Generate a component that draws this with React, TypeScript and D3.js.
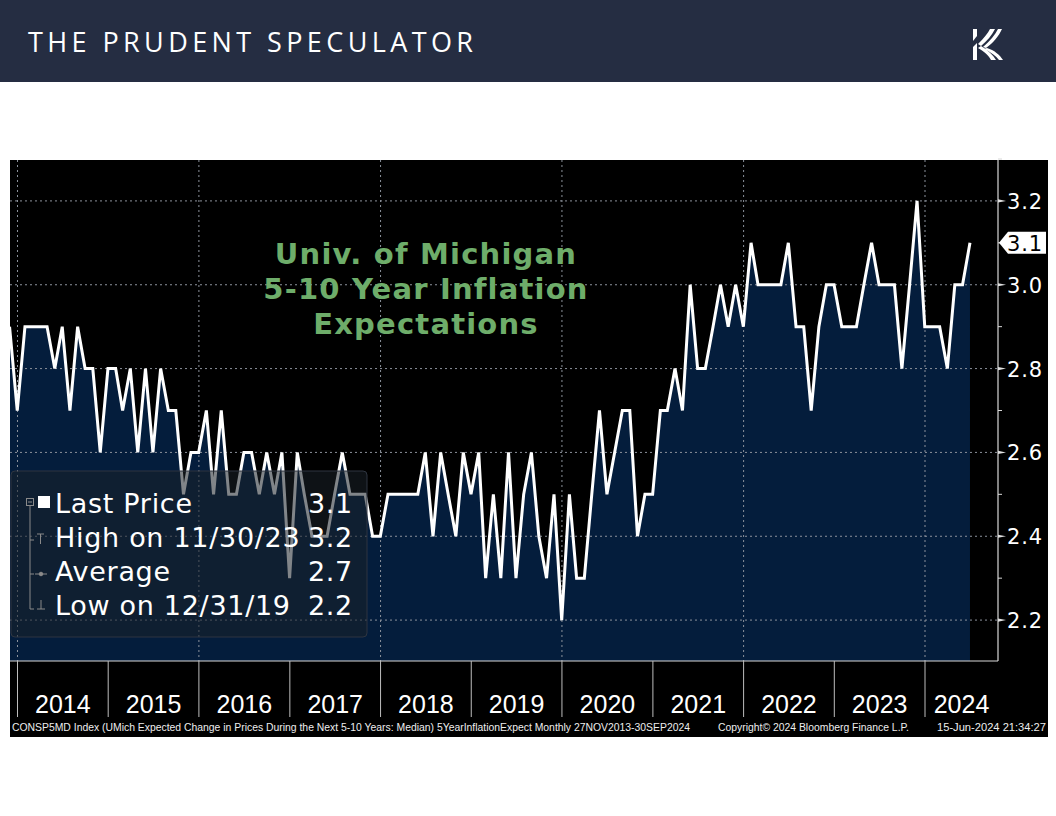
import React from 'react';
import * as d3 from 'd3';

const W = 1056;
const H = 816;

// Monthly observations, month-end, Nov 2013 .. Jun 2024
const firstYear = 2013;
const firstMonth = 10; // November (0-based)
const values = [
  2.9, 2.7, // 2013 Nov-Dec
  2.9, 2.9, 2.9, 2.9, 2.8, 2.9, 2.7, 2.9, 2.8, 2.8, 2.6, 2.8, // 2014
  2.8, 2.7, 2.8, 2.6, 2.8, 2.6, 2.8, 2.7, 2.7, 2.5, 2.6, 2.6, // 2015
  2.7, 2.5, 2.7, 2.5, 2.5, 2.6, 2.6, 2.5, 2.6, 2.5, 2.6, 2.3, // 2016
  2.6, 2.5, 2.4, 2.4, 2.4, 2.5, 2.6, 2.5, 2.5, 2.5, 2.4, 2.4, // 2017
  2.5, 2.5, 2.5, 2.5, 2.5, 2.6, 2.4, 2.6, 2.5, 2.4, 2.6, 2.5, // 2018
  2.6, 2.3, 2.5, 2.3, 2.6, 2.3, 2.5, 2.6, 2.4, 2.3, 2.5, 2.2, // 2019
  2.5, 2.3, 2.3, 2.5, 2.7, 2.5, 2.6, 2.7, 2.7, 2.4, 2.5, 2.5, // 2020
  2.7, 2.7, 2.8, 2.7, 3.0, 2.8, 2.8, 2.9, 3.0, 2.9, 3.0, 2.9, // 2021
  3.1, 3.0, 3.0, 3.0, 3.0, 3.1, 2.9, 2.9, 2.7, 2.9, 3.0, 3.0, // 2022
  2.9, 2.9, 2.9, 3.0, 3.1, 3.0, 3.0, 3.0, 2.8, 3.0, 3.2, 2.9, // 2023
  2.9, 2.9, 2.8, 3.0, 3.0, 3.1, // 2024 Jan-Jun
];

const yearLabels = ['2014', '2015', '2016', '2017', '2018', '2019', '2020', '2021', '2022', '2023', '2024'];
const majorTicks = [2.2, 2.4, 2.6, 2.8, 3.0, 3.2];
const minorTicks = [2.3, 2.5, 2.7, 2.9, 3.1, 3.3];
const gridYears = [2014, 2016, 2018, 2020, 2022, 2024];
const lastPrice = '3.1';
const legendLabels = ['Last Price', 'High on 11/30/23', 'Average', 'Low on 12/31/19'];
const legendValues = ['3.1', '3.2', '2.7', '2.2'];
const titleLines = ['Univ. of Michigan', '5-10 Year Inflation', 'Expectations'];
const footerTexts = [
  'CONSP5MD Index (UMich Expected Change in Prices During the Next 5-10 Years: Median) 5YearInflationExpect  Monthly 27NOV2013-30SEP2024',
  'Copyright\u00A9 2024 Bloomberg Finance L.P.',
  '15-Jun-2024 21:34:27',
];

export default function App() {
  const plotL = 10, plotR = 998, plotT = 160, plotB = 661;
  const panelR = 1048, panelB = 737;

  const dates = values.map((_, i) => new Date(firstYear, firstMonth + i + 1, 0));
  const data = values.map((v, i) => ({ d: dates[i], v }));

  const x = d3.scaleTime().domain([new Date(2014, 0, 1), new Date(2024, 0, 1)]).range([17.5, 925]);
  const y = d3.scaleLinear().domain([2.1, 3.3]).range([662, 159]);

  const area = d3.area<any>().x((p) => x(p.d)).y0(plotB).y1((p) => y(p.v));
  const line = d3.line<any>().x((p) => x(p.d)).y((p) => y(p.v));

  const yearStarts = yearLabels.map((yl) => x(new Date(+yl, 0, 1)));
  const yearCenters = yearLabels.map((yl, i) => {
    const a = yearStarts[i];
    const b = i < yearLabels.length - 1 ? x(new Date(+yl + 1, 0, 1)) : plotR;
    return (a + b) / 2;
  });

  const green = '#6EAD6A';
  const legendRowY = [513, 547, 581, 615];

  return (
    <svg width={W} height={H} style={{ position: 'absolute', left: 0, top: 0, background: '#fff' }}>
      <defs>
        <clipPath id="plotClip">
          <rect x={plotL} y={plotT} width={plotR - plotL} height={plotB - plotT} />
        </clipPath>
      </defs>
      {/* header */}
      <rect x={0} y={0} width={W} height={82} fill="#252D42" />
      <text x={28} y={52} fill="#fff" fontFamily="Open Sans, Noto Sans, sans-serif" fontSize={27}
        textLength={445} lengthAdjust="spacing">THE PRUDENT SPECULATOR</text>
      <g fill="#fff">
        <path d="M973,29 L977,29 L977,36 L973,41 Z" />
        <path d="M978,44 C984,38 988,33 990,29 L995,29 C992,35 987,41 981,46 Z" />
        <path d="M983,47 C990,41 995,35 998,29 L1002,29 C999,36 993,43 986,48 Z" />
        <path d="M973,47 L977,43 L977,60 L973,60 Z" />
        <path d="M978,48 C985,52 989,56 991,60 L996,60 C993,55 988,50 981,46 Z" />
        <path d="M984,49 C991,52 996,56 999,60 L1003,60 C1000,55 994,50 987,48 Z" />
      </g>

      {/* panel */}
      <rect x={plotL} y={plotT} width={panelR - plotL} height={panelB - plotT} fill="#000" />

      <g clipPath="url(#plotClip)">
        <path d={area(data) || ''} fill="#041D3C" />
        {majorTicks.map((t) => (
          <line key={'hg' + t} x1={plotL} x2={plotR} y1={y(t)} y2={y(t)} stroke="#8C929C"
            strokeWidth={1} strokeDasharray="2,3" />
        ))}
        {gridYears.map((g) => (
          <line key={'vg' + g} x1={x(new Date(g, 0, 1))} x2={x(new Date(g, 0, 1))} y1={plotT} y2={plotB}
            stroke="#8C929C" strokeWidth={1} strokeDasharray="2,3" />
        ))}
        <path d={line(data) || ''} fill="none" stroke="#fff" strokeWidth={3} strokeLinejoin="miter" />
      </g>

      {/* chart title */}
      {titleLines.map((t, i) => (
        <text key={t} x={426} y={264 + i * 35} textAnchor="middle" fill={green}
          fontFamily="DejaVu Sans, sans-serif" fontWeight="bold" fontSize={29} letterSpacing={1.2}>{t}</text>
      ))}

      {/* frame */}
      <line x1={plotR} x2={plotR} y1={plotT} y2={plotB} stroke="#d8d8d8" strokeWidth={1.2} />
      <line x1={plotL} x2={plotR} y1={plotB} y2={plotB} stroke="#d8d8d8" strokeWidth={1.2} />

      {/* right axis */}
      {minorTicks.map((t) => (
        <line key={'mt' + t} x1={plotR} x2={plotR + 4} y1={y(t)} y2={y(t)} stroke="#d8d8d8" strokeWidth={1} />
      ))}
      {majorTicks.map((t) => (
        <g key={'Mt' + t}>
          <path d={`M${plotR},${y(t) - 1.6} L${plotR + 8},${y(t)} L${plotR},${y(t) + 1.6} Z`} fill="#e0e0e0" />
          <text x={plotR + 9} y={y(t) + 8} fill="#fff" fontFamily="DejaVu Sans, sans-serif" fontSize={21}
            letterSpacing={0.8}>{t.toFixed(1)}</text>
        </g>
      ))}
      {/* last price tag */}
      <g>
        <path d={`M${plotR + 1},${y(+lastPrice)} L${plotR + 10},${y(+lastPrice) - 11} L${panelR - 2},${y(+lastPrice) - 11} L${panelR - 2},${y(+lastPrice) + 11} L${plotR + 10},${y(+lastPrice) + 11} Z`} fill="#fff" />
        <text x={plotR + 9} y={y(+lastPrice) + 8} fill="#000" fontFamily="DejaVu Sans, sans-serif" fontSize={21}
          letterSpacing={0.8}>{lastPrice}</text>
      </g>

      {/* bottom axis */}
      {yearStarts.map((xs, i) => (
        <line key={'ys' + i} x1={xs} x2={xs} y1={plotB} y2={717} stroke="#bdbdbd" strokeWidth={1} />
      ))}
      {yearLabels.map((yl, i) => (
        <text key={yl} x={yearCenters[i]} y={713} textAnchor="middle" fill="#fff"
          fontFamily="Liberation Sans Narrow, Liberation Sans, sans-serif" fontSize={25}>{yl}</text>
      ))}

      {/* legend */}
      <rect x={11} y={471} width={356} height={166} rx={4} fill="rgb(26,32,40)" fillOpacity={0.55}
        stroke="#2e3540" strokeWidth={1} />
      <g stroke="#8a8a8a" strokeWidth={1} fill="none">
        <rect x={26.5} y={498.5} width={7} height={7} />
        <line x1={28} x2={32} y1={502} y2={502} />
        <line x1={30} x2={30} y1={506} y2={609} />
        <line x1={30} x2={34} y1={540} y2={540} />
        <line x1={30} x2={34} y1={574} y2={574} />
        <line x1={30} x2={34} y1={609} y2={609} />
        <line x1={37} x2={44} y1={534} y2={534} />
        <line x1={40.5} x2={40.5} y1={534} y2={544} />
        <line x1={35} x2={47} y1={574} y2={574} />
        <circle cx={41} cy={574} r={1.8} fill="#8a8a8a" />
        <line x1={41} x2={41} y1={600} y2={609} />
        <line x1={37} x2={45} y1={609} y2={609} />
      </g>
      <rect x={38} y={496} width={12} height={12} fill="#fff" />
      {legendLabels.map((l, i) => (
        <g key={l}>
          <text x={55} y={legendRowY[i]} fill="#fff" fontFamily="DejaVu Sans, sans-serif" fontSize={27}
            letterSpacing={0.7}>{l}</text>
          <text x={353} y={legendRowY[i]} textAnchor="end" fill="#fff" fontFamily="DejaVu Sans, sans-serif"
            fontSize={27} letterSpacing={0.7}>{legendValues[i]}</text>
        </g>
      ))}

      {/* footer */}
      <text x={12} y={731} fill="#eee" fontFamily="Liberation Sans Narrow, Liberation Sans, sans-serif" fontSize={10}
        textLength={678} lengthAdjust="spacingAndGlyphs">{footerTexts[0]}</text>
      <text x={718} y={731} fill="#eee" fontFamily="Liberation Sans Narrow, Liberation Sans, sans-serif" fontSize={10}
        textLength={191} lengthAdjust="spacingAndGlyphs">{footerTexts[1]}</text>
      <text x={937} y={731} fill="#eee" fontFamily="Liberation Sans Narrow, Liberation Sans, sans-serif" fontSize={10}
        textLength={109} lengthAdjust="spacingAndGlyphs">{footerTexts[2]}</text>
    </svg>
  );
}
